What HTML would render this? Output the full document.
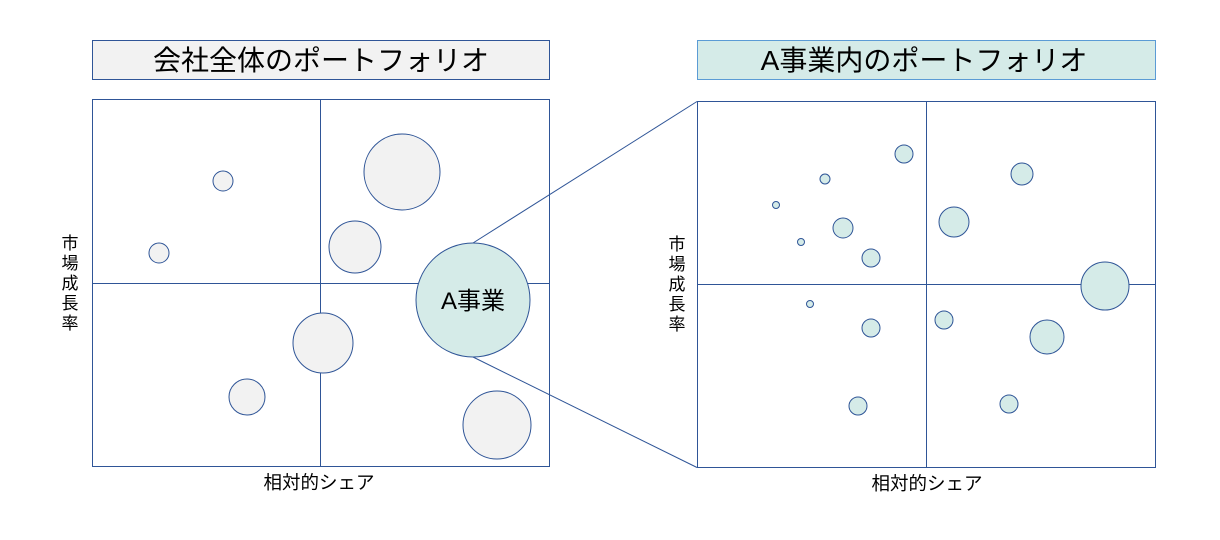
<!DOCTYPE html>
<html><head><meta charset="utf-8"><style>
html,body{margin:0;padding:0;background:#fff;}
svg{display:block;}
text{font-family:"Liberation Sans","Noto Sans CJK JP",sans-serif;fill:#000;}
</style></head><body>
<svg width="1220" height="540" viewBox="0 0 1220 540" xmlns="http://www.w3.org/2000/svg">
<rect x="92.5" y="40.5" width="457" height="39" fill="#f2f2f2" stroke="#2f5597" stroke-width="1"/>
<text x="321" y="70" font-size="28" text-anchor="middle">会社全体のポートフォリオ</text>
<rect x="697.5" y="40.5" width="458" height="39" fill="#d5ebe8" stroke="#5b9bd5" stroke-width="1"/>
<text x="924" y="70" font-size="28" text-anchor="middle">A事業内のポートフォリオ</text>

<g stroke="#2f5597" stroke-width="1" fill="none">
<rect x="92.5" y="99.5" width="457" height="367" fill="#fff"/>
<line x1="320.5" y1="99.5" x2="320.5" y2="466.5"/>
<line x1="92.5" y1="283.5" x2="549.5" y2="283.5"/>
<rect x="697.5" y="101.5" width="458" height="366" fill="#fff"/>
<line x1="926.5" y1="101.5" x2="926.5" y2="467.5"/>
<line x1="697.5" y1="284.5" x2="1155.5" y2="284.5"/>
<line x1="473" y1="243" x2="697" y2="101.5"/>
<line x1="473" y1="357" x2="697" y2="467.5"/>
</g>

<g stroke="#2f5597" stroke-width="1" fill="#f2f2f2">
<circle cx="223" cy="181" r="10"/>
<circle cx="159" cy="253" r="10"/>
<circle cx="402" cy="172" r="38"/>
<circle cx="355" cy="247" r="26"/>
<circle cx="323" cy="343" r="30"/>
<circle cx="247" cy="397" r="18"/>
<circle cx="497" cy="425" r="34"/>
<circle cx="473" cy="300" r="57" fill="#d5ebe8"/>
</g>
<text x="473" y="309" font-size="24" text-anchor="middle">A事業</text>

<g stroke="#2f5597" stroke-width="1" fill="#d5ebe8">
<circle cx="904" cy="154" r="9"/>
<circle cx="825" cy="179" r="5"/>
<circle cx="776" cy="205" r="3.5"/>
<circle cx="1022" cy="174" r="11"/>
<circle cx="843" cy="228" r="10"/>
<circle cx="954" cy="222" r="15"/>
<circle cx="801" cy="242" r="3.5"/>
<circle cx="871" cy="258" r="9"/>
<circle cx="1105" cy="286" r="24"/>
<circle cx="810" cy="304" r="3.5"/>
<circle cx="944" cy="320" r="9"/>
<circle cx="871" cy="328" r="9"/>
<circle cx="1047" cy="337" r="17"/>
<circle cx="858" cy="406" r="9"/>
<circle cx="1009" cy="404" r="9"/>
</g>

<g font-size="17" text-anchor="middle">
<text x="70" y="249">市</text><text x="70" y="269">場</text><text x="70" y="289">成</text><text x="70" y="309">長</text><text x="70" y="329">率</text>
<text x="677" y="250">市</text><text x="677" y="270">場</text><text x="677" y="290">成</text><text x="677" y="310">長</text><text x="677" y="330">率</text>
</g>
<g font-size="18.5" text-anchor="middle">
<text x="319" y="489">相対的シェア</text>
<text x="927" y="490">相対的シェア</text>
</g>
</svg>
</body></html>
